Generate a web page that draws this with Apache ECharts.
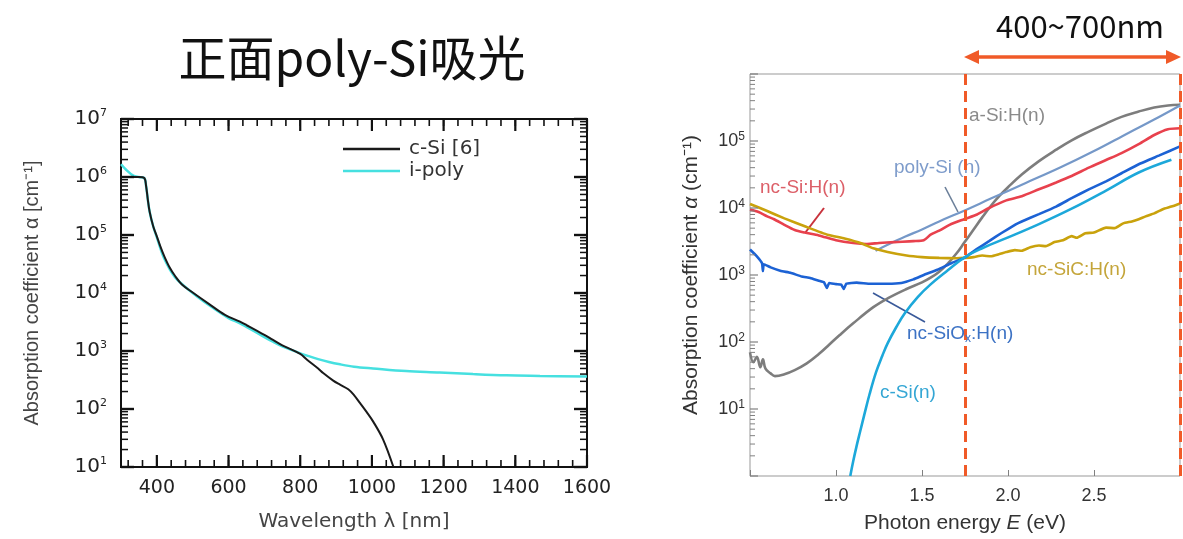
<!DOCTYPE html>
<html><head><meta charset="utf-8">
<script src="https://cdn.jsdelivr.net/npm/echarts@6/dist/echarts.min.js"></script>
<style>html,body{margin:0;padding:0;background:#fff}#c{width:1183px;height:539px}</style>
</head><body><div id="c"></div>
<script>
// ---------- Left panel data (wavelength nm, absorption coefficient cm^-1) ----------
const cSiWl    = [300, 320, 350, 365, 370, 375, 380, 390, 400, 410, 420, 435, 450, 470, 500, 545, 590, 632, 650, 700, 724, 750, 800, 819, 850, 864, 892, 911, 934, 950, 967, 985, 1004, 1031, 1060];
const cSiAlpha = [1.0e6, 1.0e6, 1.0e6, 9.6e5, 7.0e5, 4.0e5, 2.5e5, 1.4e5, 9.5e4, 6.3e4, 4.4e4, 2.8e4, 2.0e4, 1.4e4, 1.02e4, 6.5e3, 4.2e3, 3.2e3, 2.8e3, 1.9e3, 1.55e3, 1.25e3, 890, 708, 500, 417, 309, 263, 219, 174, 126, 89, 60, 30, 10];
const iPolyWl    = [300, 315, 333, 350, 365, 370, 375, 380, 390, 400, 420, 450, 500, 550, 600, 632, 650, 700, 724, 750, 775, 800, 819, 850, 880, 911, 950, 1003, 1095, 1189, 1282, 1375, 1469, 1600];
const iPolyAlpha = [1.66e6, 1.32e6, 1.07e6, 1.0e6, 9.6e5, 7.0e5, 4.0e5, 2.5e5, 1.4e5, 9.1e4, 4.0e4, 1.9e4, 1.0e4, 5.9e3, 3.7e3, 3.0e3, 2.6e3, 1740, 1445, 1200, 1047, 912, 832, 724, 646, 589, 537, 501, 450, 427, 400, 380, 372, 363];
const leftLegend = ['c-Si [6]', 'i-poly'];

// ---------- Right panel data (photon energy eV, absorption coefficient cm^-1) ----------
const aSiE = [0.50, 0.52, 0.54, 0.56, 0.575, 0.59, 0.62, 0.645, 0.70, 0.76, 0.83, 0.90, 0.96, 1.02, 1.10, 1.217, 1.30, 1.41, 1.50, 1.55, 1.60, 1.65, 1.70, 1.745, 1.80, 1.85, 1.90, 1.95, 2.00, 2.08, 2.18, 2.28, 2.37, 2.47, 2.57, 2.66, 2.76, 2.85, 2.93, 3.00];
const aSiA = [70, 50, 60, 42, 55, 40, 34, 31, 33, 38, 48, 66, 91, 126, 190, 331, 447, 617, 776, 912, 1122, 1479, 2089, 3020, 4786, 7244, 10715, 15136, 20417, 31623, 50119, 74131, 102329, 138038, 181970, 229087, 275423, 316228, 338844, 346737];
const polySiE = [1.23, 1.30, 1.40, 1.50, 1.60, 1.745, 1.90, 2.10, 2.30, 2.50, 2.70, 2.85, 3.00];
const polySiA = [2291, 2818, 3715, 4786, 6310, 9120, 13804, 23442, 39811, 70795, 131826, 208930, 338844];
const ncSiE = [0.50, 0.55, 0.60, 0.64, 0.70, 0.76, 0.818, 0.90, 1.00, 1.10, 1.18, 1.25, 1.34, 1.45, 1.51, 1.55, 1.60, 1.66, 1.745, 1.82, 1.89, 1.99, 2.08, 2.18, 2.28, 2.37, 2.47, 2.57, 2.66, 2.76, 2.85, 2.93, 3.00];
const ncSiA = [9500, 8700, 7500, 6800, 5600, 4700, 4300, 3900, 3300, 3000, 2900, 3000, 3100, 3200, 3300, 4000, 4600, 5600, 6800, 8000, 1.0e4, 1.3e4, 1.5e4, 1.9e4, 2.4e4, 3.0e4, 4.0e4, 5.2e4, 6.6e4, 9.0e4, 1.23e5, 1.5e5, 1.55e5];
const ncSiCE = [0.50, 0.60, 0.70, 0.83, 0.95, 1.05, 1.15, 1.217, 1.30, 1.41, 1.50, 1.60, 1.70, 1.745, 1.80, 1.85, 1.90, 1.95, 1.99, 2.04, 2.08, 2.13, 2.18, 2.22, 2.27, 2.32, 2.37, 2.40, 2.45, 2.50, 2.57, 2.62, 2.67, 2.72, 2.76, 2.80, 2.85, 2.90, 2.95, 3.00];
const ncSiCA = [1.15e4, 9000, 7000, 5200, 4000, 3500, 2950, 2500, 2200, 1950, 1850, 1800, 1780, 1800, 1850, 1950, 1900, 2050, 2200, 2350, 2300, 2600, 2750, 2700, 3100, 3300, 3800, 3600, 4200, 4300, 5100, 5000, 5900, 6300, 6800, 7500, 8300, 9600, 1.05e4, 1.17e4];
const ncSiOxE = [0.50, 0.54, 0.57, 0.575, 0.58, 0.62, 0.68, 0.735, 0.80, 0.85, 0.90, 0.93, 0.947, 0.96, 1.00, 1.03, 1.045, 1.06, 1.12, 1.20, 1.30, 1.38, 1.45, 1.51, 1.59, 1.67, 1.745, 1.82, 1.89, 1.96, 2.045, 2.08, 2.18, 2.28, 2.37, 2.47, 2.57, 2.66, 2.76, 2.88, 3.00];
const ncSiOxA = [2400, 1900, 1500, 1150, 1450, 1300, 1150, 1080, 950, 900, 820, 780, 640, 760, 730, 720, 620, 740, 770, 740, 740, 760, 860, 1000, 1200, 1500, 1800, 2450, 3200, 4200, 5700, 6300, 8100, 1.05e4, 1.4e4, 1.9e4, 2.5e4, 3.3e4, 4.5e4, 6.1e4, 8.3e4];
const cSinE = [1.083, 1.10, 1.12, 1.14, 1.165, 1.195, 1.233, 1.27, 1.30, 1.35, 1.40, 1.475, 1.55, 1.65, 1.745, 1.85, 1.99, 2.18, 2.37, 2.57, 2.76, 2.95];
const cSinA = [1, 1.66, 2.82, 4.57, 8.3, 16.6, 35.5, 63, 95.5, 166, 269, 468, 724, 1175, 1820, 2512, 3548, 5754, 9772, 18197, 33884, 52481];
const rightNames = ['a-Si:H(n)', 'poly-Si (n)', 'nc-Si:H(n)', 'nc-SiC:H(n)', 'nc-SiOx:H(n)', 'c-Si(n)'];
const bandEdges = [1.75, 3.0];   // 400~700 nm window (eV)

function pairs(xs, ys) { return xs.map((x, i) => [x, ys[i]]); }

const LF = 'DejaVu Sans, sans-serif';
const RF = 'Liberation Sans, Arial, sans-serif';

function supFmt(v) {
  const e = Math.round(Math.log10(v));
  return '{b|10}{s|' + e + '}';
}

// tick positions for the frames
const leftXTicksMinor = []; for (let v = 320; v <= 1600; v += 40) leftXTicksMinor.push(v);
const leftXTicksMajor = []; for (let v = 400; v <= 1600; v += 200) leftXTicksMajor.push(v);
const decadesL = [10, 100, 1e3, 1e4, 1e5, 1e6, 1e7];
const minorL = []; for (let d = 10; d < 1e7; d *= 10) for (let k = 2; k <= 9; k++) minorL.push(k * d);
const decadesR = [1, 10, 100, 1e3, 1e4, 1e5, 1e6];
const minorR = []; for (let d = 1; d < 1e6; d *= 10) for (let k = 2; k <= 9; k++) minorR.push(k * d);

function leftTicks(params, api) {
  const ch = [];
  const ln = (p, dx, dy, w) => ch.push({type: 'line', shape: {x1: p[0], y1: p[1], x2: p[0] + dx, y2: p[1] + dy}, style: {stroke: '#111', lineWidth: w}});
  leftXTicksMinor.forEach(v => { ln(api.coord([v, 10]), 0, -7, 1.6); ln(api.coord([v, 1e7]), 0, 7, 1.6); });
  leftXTicksMajor.forEach(v => { ln(api.coord([v, 10]), 0, -12, 2.2); ln(api.coord([v, 1e7]), 0, 12, 2.2); });
  minorL.forEach(v => { ln(api.coord([300, v]), 7, 0, 1.5); ln(api.coord([1600, v]), -7, 0, 1.5); });
  decadesL.forEach(v => { ln(api.coord([300, v]), 13, 0, 2.4); ln(api.coord([1600, v]), -13, 0, 2.4); });
  return {type: 'group', children: ch};
}
function rightTicks(params, api) {
  const ch = [];
  const ln = (p, dx, dy, w) => ch.push({type: 'line', shape: {x1: p[0], y1: p[1], x2: p[0] + dx, y2: p[1] + dy}, style: {stroke: '#808080', lineWidth: w}});
  minorR.forEach(v => ln(api.coord([0.5, v]), 5, 0, 1));
  decadesR.forEach(v => ln(api.coord([0.5, v]), 8, 0, 1.2));
  return {type: 'group', children: ch};
}

const chart = echarts.init(document.getElementById('c'));
chart.setOption({
  animation: false,
  backgroundColor: '#fff',
  title: [
    {text: '正面poly-Si吸光', left: 352, textAlign: 'center', top: 34, padding: 0,
     textStyle: {fontSize: 48, fontWeight: 'normal', color: '#111', fontFamily: 'Noto Sans CJK SC'}},
    {text: '400~700nm', left: 1080, textAlign: 'center', top: 11, padding: 0,
     textStyle: {fontSize: 31, fontWeight: 'normal', color: '#111', fontFamily: 'Noto Sans CJK SC'}}
  ],
  legend: {
    data: leftLegend, left: 338, top: 134, orient: 'vertical', icon: 'rect', itemWidth: 57, itemHeight: 2.5, itemGap: 2,
    textStyle: {fontSize: 20, fontFamily: LF, color: '#333', padding: [0, 0, 0, 4]}
  },
  grid: [
    {left: 121, top: 119, width: 466, height: 348, show: true, borderColor: '#111', borderWidth: 2, backgroundColor: 'transparent'},
    {left: 750, top: 74, width: 432, height: 404, show: true, borderColor: '#999', borderWidth: 1, backgroundColor: 'transparent'}
  ],
  xAxis: [
    {type: 'value', gridIndex: 0, min: 300, max: 1600, interval: 100,
     axisLine: {show: false}, axisTick: {show: false}, splitLine: {show: false},
     axisLabel: {margin: 12, fontSize: 19, fontFamily: LF, color: '#222',
       formatter: v => (v % 200 === 0 ? String(v) : '')},
     name: 'Wavelength λ [nm]', nameLocation: 'middle', nameGap: 45, nameMoveOverlap: false,
     nameTextStyle: {fontSize: 20, fontFamily: LF, color: '#444'}},
    {type: 'value', gridIndex: 1, min: 0.5, max: 3.0, interval: 0.5,
     axisLine: {show: false}, splitLine: {show: false},
     axisTick: {show: true, inside: true, length: 6, lineStyle: {color: '#808080'}},
     axisLabel: {margin: 11, fontSize: 18, fontFamily: RF, color: '#333',
       formatter: v => ((v <= 0.5 || v >= 3) ? '' : v.toFixed(1))},
     name: '{n|Photon energy }{i|E}{n| (eV)}', nameLocation: 'middle', nameGap: 37, nameMoveOverlap: false,
     nameTextStyle: {rich: {n: {fontSize: 21, fontFamily: RF, color: '#333'}, i: {fontSize: 21, fontFamily: RF, fontStyle: 'italic', color: '#333'}}}}
  ],
  yAxis: [
    {type: 'log', logBase: 10, gridIndex: 0, min: 10, max: 1e7, splitNumber: 6,
     axisLine: {show: false}, axisTick: {show: false}, splitLine: {show: false}, minorTick: {show: false},
     axisLabel: {margin: 14, formatter: supFmt,
       rich: {b: {fontSize: 20, fontFamily: LF, color: '#222', lineHeight: 22},
              s: {fontSize: 11, fontFamily: LF, color: '#222', lineHeight: 12, verticalAlign: 'top'}}},
     name: 'Absorption coefficient α [cm⁻¹]', nameLocation: 'middle', nameGap: 79, nameMoveOverlap: false,
     nameTextStyle: {fontSize: 20, fontFamily: RF, color: '#444'}},
    {type: 'log', logBase: 10, gridIndex: 1, min: 1, max: 1e6, splitNumber: 6,
     axisLine: {show: false}, axisTick: {show: false}, splitLine: {show: false}, minorTick: {show: false},
     axisLabel: {margin: 5, formatter: v => { const e = Math.round(Math.log10(v)); return (e < 1 || e > 5) ? '' : supFmt(v); },
       rich: {b: {fontSize: 18, fontFamily: RF, color: '#333', lineHeight: 20},
              s: {fontSize: 12, fontFamily: RF, color: '#333', lineHeight: 12, verticalAlign: 'top'}}},
     name: '{n|Absorption coefficient }{i|α}{n| (cm⁻¹)}', nameLocation: 'middle', nameGap: 48, nameMoveOverlap: false,
     nameTextStyle: {rich: {n: {fontSize: 21, fontFamily: RF, color: '#333'}, i: {fontSize: 21, fontFamily: RF, fontStyle: 'italic', color: '#333'}}}}
  ],
  series: [
    {type: 'custom', xAxisIndex: 0, yAxisIndex: 0, data: [[1000, 1000]], renderItem: leftTicks, silent: true, z: 5},
    {type: 'custom', xAxisIndex: 1, yAxisIndex: 1, data: [[1.5, 100]], renderItem: rightTicks, silent: true, z: 5},
    {name: leftLegend[1], type: 'line', xAxisIndex: 0, yAxisIndex: 0, data: pairs(iPolyWl, iPolyAlpha),
     symbol: 'none', smooth: 0.35, lineStyle: {color: '#46e0e0', width: 2.5}, itemStyle: {color: '#46e0e0'}},
    {name: leftLegend[0], type: 'line', xAxisIndex: 0, yAxisIndex: 0, data: pairs(cSiWl, cSiAlpha),
     symbol: 'none', smooth: 0.35, lineStyle: {color: '#1a1a1a', width: 2}, itemStyle: {color: '#1a1a1a'}},
    {name: rightNames[0], type: 'line', xAxisIndex: 1, yAxisIndex: 1, data: pairs(aSiE, aSiA), clip: false,
     symbol: 'none', smooth: 0.4, lineStyle: {color: '#7d7d7d', width: 2.6},
     markLine: {silent: true, symbol: 'none', label: {show: false}, data: bandEdges.map(v => ({xAxis: v})),
       lineStyle: {color: '#f05a28', width: 3, type: [11, 6]}}},
    {name: rightNames[1], type: 'line', xAxisIndex: 1, yAxisIndex: 1, data: pairs(polySiE, polySiA),
     symbol: 'none', smooth: 0.4, lineStyle: {color: '#7598c8', width: 2.2}},
    {name: rightNames[2], type: 'line', xAxisIndex: 1, yAxisIndex: 1, data: pairs(ncSiE, ncSiA),
     symbol: 'none', smooth: 0.25, lineStyle: {color: '#e8414d', width: 2.6}},
    {name: rightNames[3], type: 'line', xAxisIndex: 1, yAxisIndex: 1, data: pairs(ncSiCE, ncSiCA),
     symbol: 'none', smooth: 0.15, lineStyle: {color: '#c9a20c', width: 2.6}},
    {name: rightNames[4], type: 'line', xAxisIndex: 1, yAxisIndex: 1, data: pairs(ncSiOxE, ncSiOxA),
     symbol: 'none', smooth: 0.1, lineStyle: {color: '#1c62d4', width: 2.6}},
    {name: rightNames[5], type: 'line', xAxisIndex: 1, yAxisIndex: 1, data: pairs(cSinE, cSinA),
     symbol: 'none', smooth: 0.4, lineStyle: {color: '#1da8da', width: 2.6}}
  ]
});

// annotations for the right panel
const xa = chart.convertToPixel({xAxisIndex: 1}, bandEdges[0]);
const xb = chart.convertToPixel({xAxisIndex: 1}, bandEdges[1]);
const ay = 57, AC = '#f05a28';
const lbl = (text, x, y, color) => ({type: 'text', left: x, top: y - 11, silent: true,
  style: {text: text, fill: color, font: '19px ' + RF}});
chart.setOption({
  graphic: [
    {type: 'line', shape: {x1: xa + 10, y1: ay, x2: xb - 10, y2: ay}, style: {stroke: AC, lineWidth: 3.5}, silent: true},
    {type: 'polygon', shape: {points: [[xa - 1, ay], [xa + 14, ay - 7], [xa + 14, ay + 7]]}, style: {fill: AC}, silent: true},
    {type: 'polygon', shape: {points: [[xb + 1, ay], [xb - 14, ay - 7], [xb - 14, ay + 7]]}, style: {fill: AC}, silent: true},
    lbl(rightNames[0], 969, 117, '#8a8a8a'),
    lbl(rightNames[1], 894, 169, '#7e9ccb'),
    lbl(rightNames[2], 760, 189, '#dc5f68'),
    lbl(rightNames[3], 1027, 271, '#c4a53a'),
    {type: 'text', left: 907, top: 324, silent: true, zlevel: 1,
     style: {text: '{a|nc-SiO}{x|x}{a|:H(n)}', rich: {a: {fontSize: 19, fontFamily: RF, fill: '#3c72c4', lineHeight: 22},
       x: {fontSize: 12, fontFamily: RF, fill: '#3c72c4', lineHeight: 12, verticalAlign: 'bottom'}}}},
    lbl(rightNames[5], 880, 394, '#34a6d4'),
    {type: 'line', shape: {x1: 824, y1: 208, x2: 805, y2: 233}, style: {stroke: '#c8323c', lineWidth: 2}, silent: true},
    {type: 'line', shape: {x1: 945, y1: 187, x2: 958, y2: 212}, style: {stroke: '#6b7f99', lineWidth: 1.6}, silent: true},
    {type: 'line', shape: {x1: 873, y1: 293, x2: 925, y2: 322}, style: {stroke: '#3a5a9a', lineWidth: 1.6}, silent: true}
  ]
});
</script></body></html>
